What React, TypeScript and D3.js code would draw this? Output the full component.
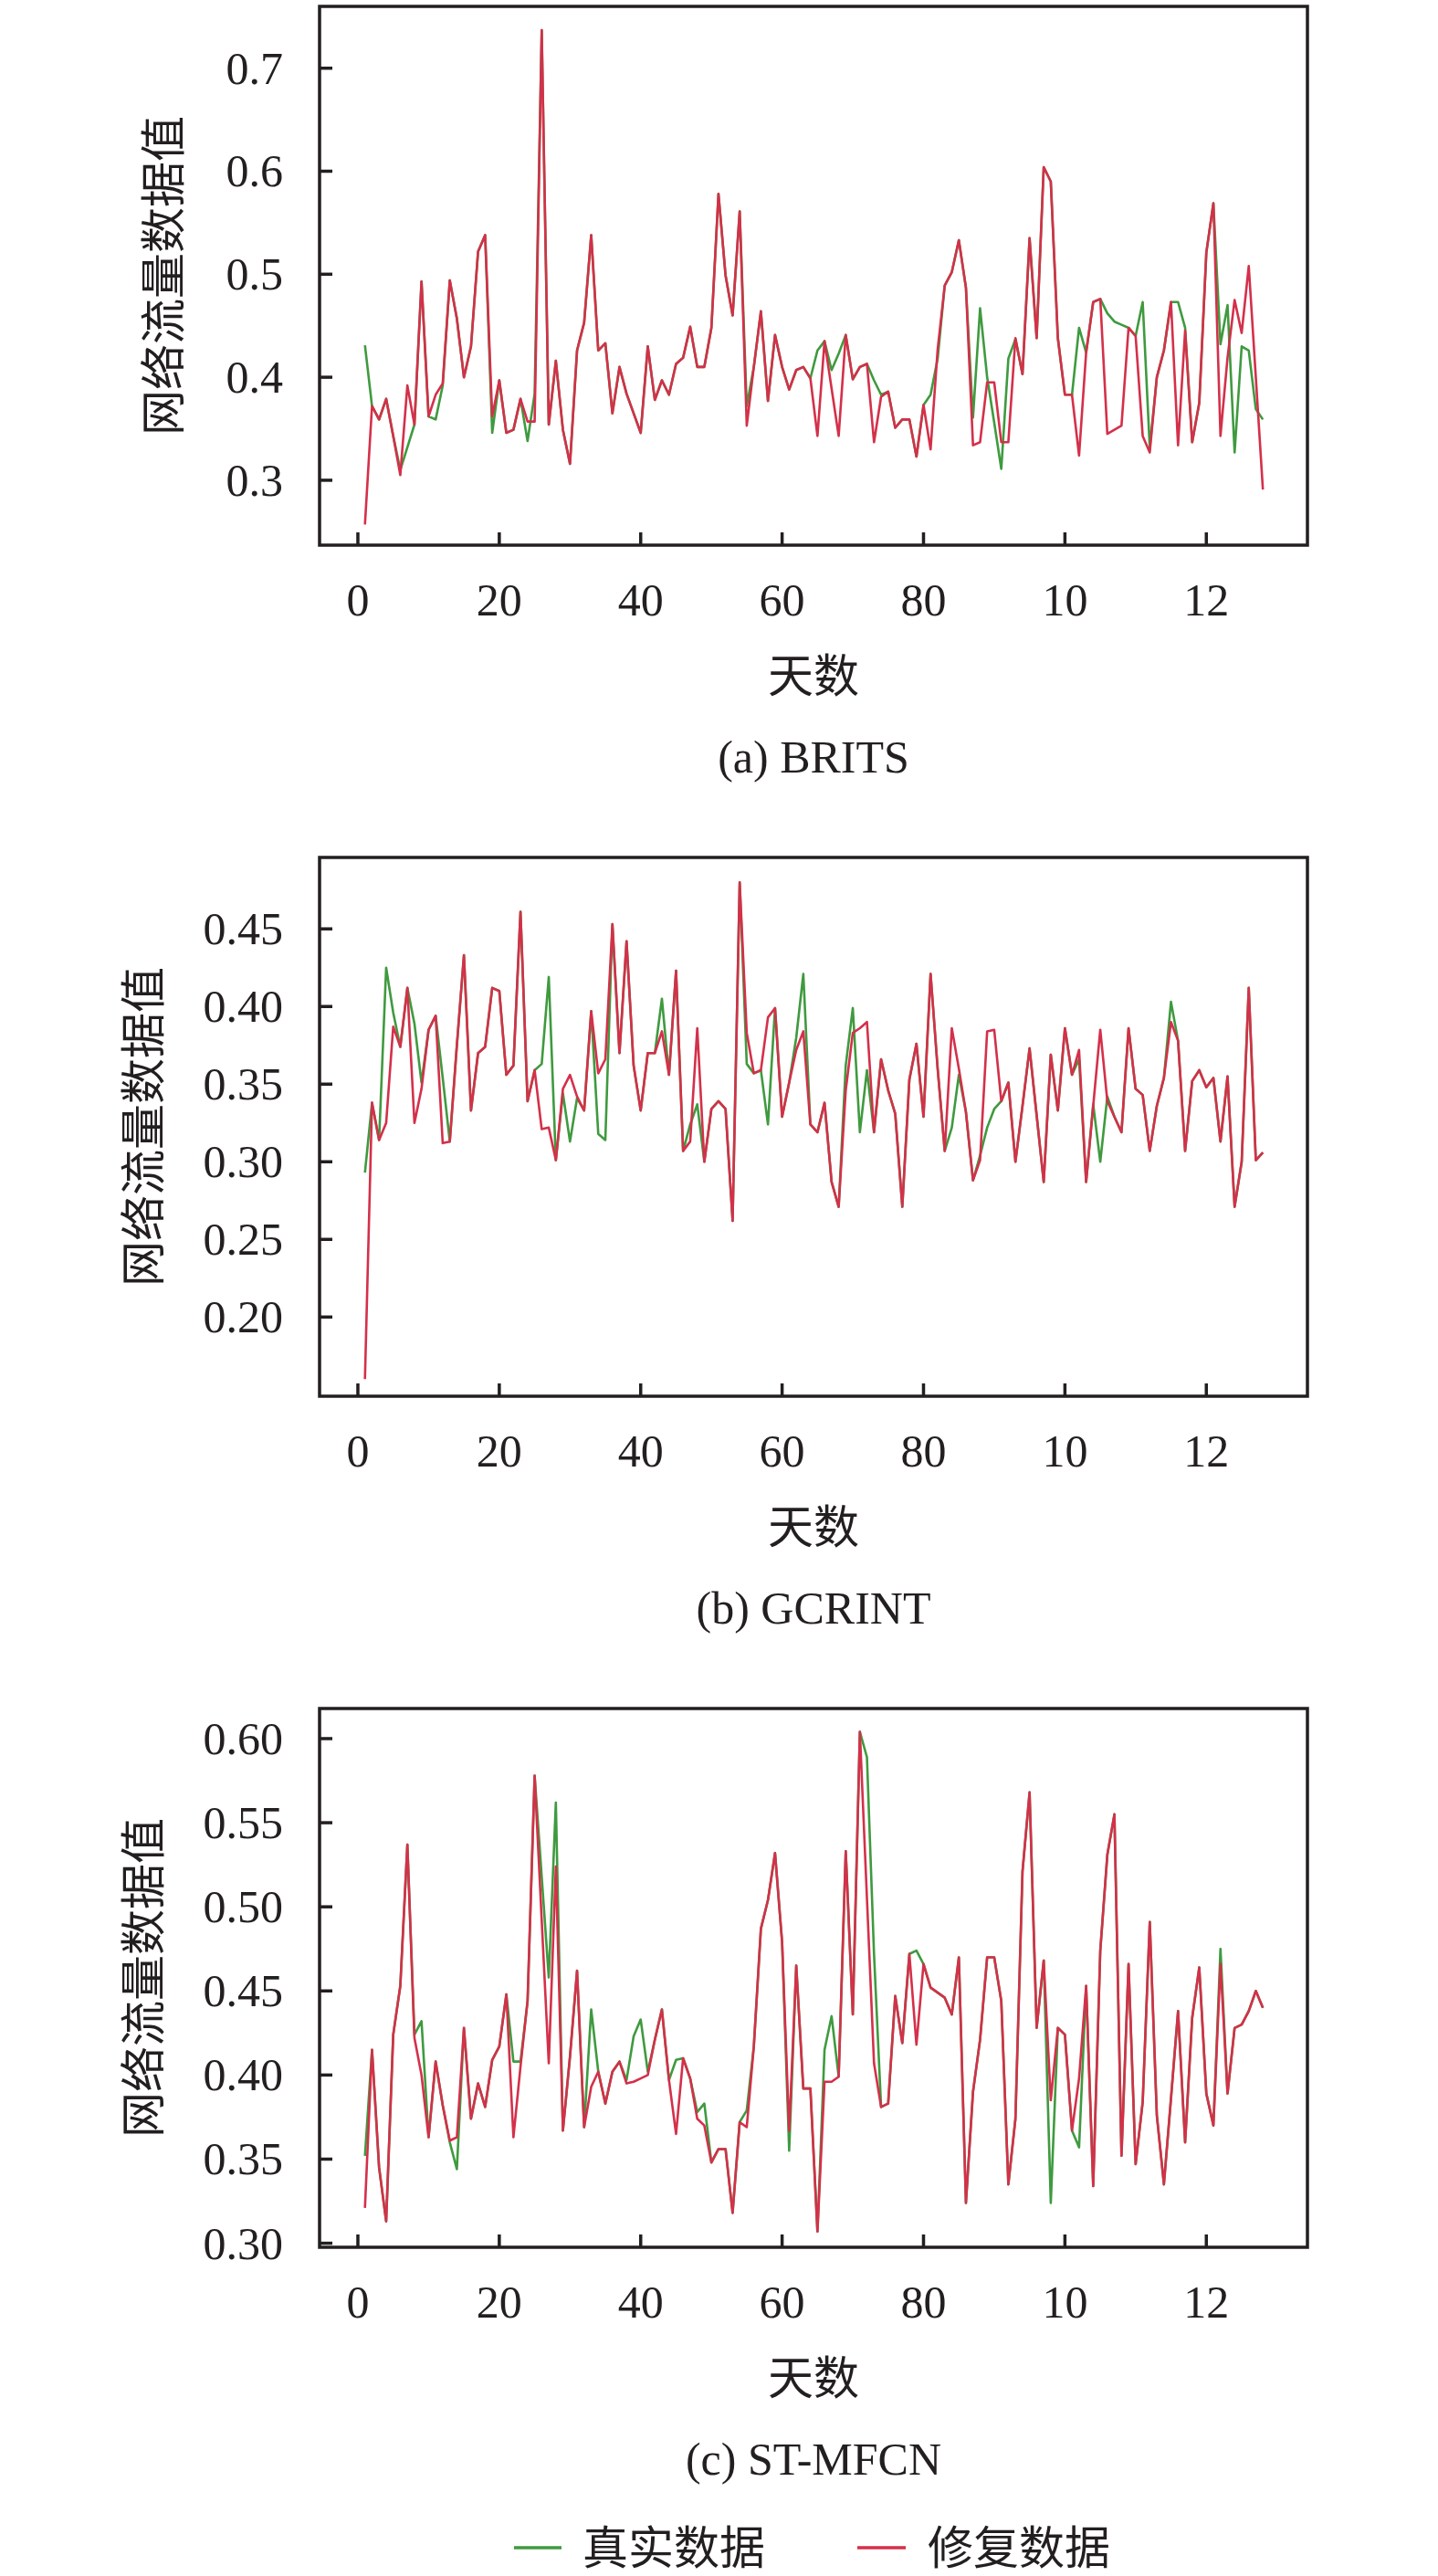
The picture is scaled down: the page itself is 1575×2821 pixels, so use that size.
import React from "react";
import * as d3 from "d3";

const W = 1575;
const H = 2821;

// x axis: days, labels as printed (100/120 are truncated in the source figure)
const days = d3.range(1, 129);
const xTickValues = [0, 20, 40, 60, 80, 100, 120];
const xTickLabels = ["0", "20", "40", "60", "80", "10", "12"];

// (a) BRITS
const britsTrue = [
  0.431, 0.372, 0.359, 0.379, 0.343, 0.310, 0.332, 0.354, 0.493, 0.362,
  0.359, 0.392, 0.494, 0.457, 0.400, 0.430, 0.522, 0.538, 0.346, 0.397,
  0.346, 0.349, 0.379, 0.338, 0.384, 0.737, 0.354, 0.416, 0.349, 0.316,
  0.426, 0.453, 0.538, 0.426, 0.433, 0.365, 0.410, 0.384, 0.365, 0.346,
  0.430, 0.378, 0.397, 0.383, 0.413, 0.419, 0.449, 0.410, 0.410, 0.448,
  0.578, 0.499, 0.460, 0.561, 0.372, 0.410, 0.464, 0.377, 0.441, 0.410,
  0.388, 0.407, 0.410, 0.399, 0.426, 0.435, 0.407, 0.423, 0.441, 0.398,
  0.410, 0.413, 0.397, 0.383, 0.386, 0.351, 0.359, 0.359, 0.323, 0.373,
  0.383, 0.418, 0.489, 0.502, 0.533, 0.487, 0.361, 0.467, 0.400, 0.356,
  0.311, 0.418, 0.437, 0.403, 0.535, 0.438, 0.604, 0.590, 0.438, 0.383,
  0.383, 0.448, 0.424, 0.473, 0.476, 0.462, 0.454, 0.451, 0.448, 0.440,
  0.473, 0.332, 0.400, 0.426, 0.473, 0.473, 0.448, 0.337, 0.375, 0.521,
  0.569, 0.432, 0.470, 0.327, 0.430, 0.426, 0.369, 0.359,
];
const britsRepaired = [
  0.257, 0.372, 0.359, 0.379, 0.343, 0.305, 0.392, 0.354, 0.493, 0.362,
  0.383, 0.394, 0.494, 0.457, 0.400, 0.430, 0.522, 0.538, 0.362, 0.397,
  0.346, 0.349, 0.379, 0.357, 0.357, 0.737, 0.354, 0.416, 0.349, 0.316,
  0.426, 0.453, 0.538, 0.426, 0.433, 0.365, 0.410, 0.384, 0.365, 0.346,
  0.430, 0.378, 0.397, 0.383, 0.413, 0.419, 0.449, 0.410, 0.410, 0.448,
  0.578, 0.499, 0.460, 0.561, 0.353, 0.410, 0.464, 0.377, 0.441, 0.410,
  0.388, 0.407, 0.410, 0.399, 0.343, 0.435, 0.389, 0.343, 0.441, 0.398,
  0.410, 0.413, 0.337, 0.381, 0.386, 0.351, 0.359, 0.359, 0.323, 0.373,
  0.330, 0.427, 0.489, 0.502, 0.533, 0.487, 0.334, 0.337, 0.395, 0.395,
  0.337, 0.337, 0.438, 0.403, 0.535, 0.438, 0.604, 0.590, 0.438, 0.383,
  0.383, 0.324, 0.424, 0.473, 0.476, 0.345, 0.349, 0.353, 0.448, 0.440,
  0.343, 0.327, 0.400, 0.426, 0.473, 0.334, 0.445, 0.337, 0.375, 0.521,
  0.569, 0.343, 0.419, 0.475, 0.443, 0.508, 0.400, 0.291,
];

// (b) GCRINT
const gcrintTrue = [
  0.293, 0.338, 0.314, 0.425, 0.396, 0.374, 0.412, 0.389, 0.351, 0.385,
  0.394, 0.354, 0.313, 0.375, 0.433, 0.333, 0.370, 0.374, 0.412, 0.410,
  0.356, 0.362, 0.461, 0.339, 0.359, 0.363, 0.419, 0.301, 0.344, 0.313,
  0.341, 0.333, 0.397, 0.318, 0.314, 0.453, 0.370, 0.442, 0.362, 0.333,
  0.370, 0.370, 0.405, 0.356, 0.423, 0.307, 0.324, 0.337, 0.300, 0.334,
  0.339, 0.334, 0.262, 0.480, 0.363, 0.357, 0.359, 0.324, 0.399, 0.329,
  0.351, 0.380, 0.421, 0.324, 0.319, 0.338, 0.287, 0.271, 0.362, 0.399,
  0.319, 0.359, 0.319, 0.366, 0.346, 0.331, 0.271, 0.353, 0.376, 0.329,
  0.421, 0.360, 0.307, 0.322, 0.356, 0.332, 0.288, 0.304, 0.322, 0.334,
  0.339, 0.351, 0.300, 0.336, 0.373, 0.330, 0.287, 0.369, 0.333, 0.386,
  0.356, 0.366, 0.287, 0.337, 0.300, 0.342, 0.329, 0.319, 0.386, 0.347,
  0.343, 0.307, 0.336, 0.354, 0.403, 0.378, 0.307, 0.352, 0.359, 0.348,
  0.354, 0.313, 0.355, 0.271, 0.300, 0.412, 0.301, 0.306,
];
const gcrintRepaired = [
  0.160, 0.338, 0.314, 0.325, 0.387, 0.374, 0.412, 0.325, 0.347, 0.385,
  0.394, 0.312, 0.313, 0.375, 0.433, 0.333, 0.370, 0.374, 0.412, 0.410,
  0.356, 0.362, 0.461, 0.339, 0.359, 0.321, 0.322, 0.301, 0.347, 0.356,
  0.342, 0.333, 0.397, 0.357, 0.366, 0.453, 0.370, 0.442, 0.362, 0.333,
  0.370, 0.370, 0.384, 0.356, 0.423, 0.307, 0.313, 0.386, 0.300, 0.334,
  0.339, 0.334, 0.262, 0.480, 0.383, 0.357, 0.359, 0.393, 0.399, 0.329,
  0.351, 0.372, 0.384, 0.324, 0.319, 0.338, 0.287, 0.271, 0.346, 0.383,
  0.386, 0.390, 0.319, 0.366, 0.346, 0.331, 0.271, 0.353, 0.376, 0.329,
  0.421, 0.360, 0.307, 0.386, 0.360, 0.332, 0.288, 0.301, 0.384, 0.385,
  0.339, 0.351, 0.300, 0.336, 0.373, 0.330, 0.287, 0.369, 0.333, 0.386,
  0.356, 0.372, 0.287, 0.336, 0.385, 0.339, 0.329, 0.319, 0.386, 0.347,
  0.343, 0.307, 0.336, 0.354, 0.390, 0.378, 0.307, 0.352, 0.359, 0.348,
  0.354, 0.313, 0.355, 0.271, 0.300, 0.412, 0.301, 0.306,
];

// (c) ST-MFCN
const stmfcnTrue = [
  0.352, 0.415, 0.345, 0.313, 0.424, 0.453, 0.537, 0.424, 0.432, 0.363,
  0.408, 0.382, 0.360, 0.344, 0.428, 0.374, 0.395, 0.381, 0.409, 0.417,
  0.448, 0.408, 0.408, 0.444, 0.578, 0.518, 0.458, 0.562, 0.367, 0.411,
  0.462, 0.369, 0.439, 0.402, 0.383, 0.402, 0.408, 0.397, 0.423, 0.433,
  0.402, 0.421, 0.439, 0.397, 0.409, 0.410, 0.398, 0.378, 0.383, 0.348,
  0.356, 0.356, 0.318, 0.372, 0.379, 0.417, 0.487, 0.504, 0.532, 0.479,
  0.355, 0.465, 0.392, 0.392, 0.307, 0.415, 0.435, 0.399, 0.533, 0.436,
  0.604, 0.589, 0.472, 0.381, 0.383, 0.447, 0.419, 0.472, 0.474, 0.466,
  0.452, 0.449, 0.446, 0.436, 0.470, 0.324, 0.390, 0.421, 0.470, 0.470,
  0.444, 0.335, 0.374, 0.521, 0.568, 0.428, 0.468, 0.324, 0.428, 0.424,
  0.367, 0.357, 0.453, 0.334, 0.474, 0.531, 0.555, 0.352, 0.466, 0.347,
  0.384, 0.491, 0.376, 0.335, 0.386, 0.438, 0.360, 0.434, 0.464, 0.389,
  0.370, 0.475, 0.389, 0.428, 0.430, 0.438, 0.450, 0.440,
];
const stmfcnRepaired = [
  0.321, 0.415, 0.345, 0.313, 0.424, 0.453, 0.537, 0.422, 0.400, 0.363,
  0.408, 0.382, 0.361, 0.363, 0.428, 0.374, 0.395, 0.381, 0.409, 0.417,
  0.448, 0.363, 0.405, 0.444, 0.578, 0.492, 0.407, 0.524, 0.367, 0.411,
  0.462, 0.369, 0.393, 0.402, 0.383, 0.402, 0.408, 0.395, 0.396, 0.398,
  0.400, 0.421, 0.439, 0.397, 0.365, 0.410, 0.398, 0.374, 0.370, 0.348,
  0.356, 0.356, 0.318, 0.372, 0.369, 0.417, 0.487, 0.504, 0.532, 0.479,
  0.367, 0.465, 0.392, 0.392, 0.307, 0.396, 0.396, 0.399, 0.533, 0.436,
  0.604, 0.505, 0.407, 0.381, 0.383, 0.447, 0.419, 0.472, 0.418, 0.466,
  0.452, 0.449, 0.446, 0.436, 0.470, 0.324, 0.390, 0.421, 0.470, 0.470,
  0.444, 0.335, 0.374, 0.521, 0.568, 0.428, 0.468, 0.385, 0.428, 0.424,
  0.367, 0.398, 0.453, 0.334, 0.474, 0.531, 0.555, 0.352, 0.466, 0.347,
  0.384, 0.491, 0.376, 0.335, 0.386, 0.438, 0.360, 0.434, 0.464, 0.389,
  0.370, 0.466, 0.389, 0.428, 0.430, 0.438, 0.450, 0.440,
];

const GREEN = "#3f9a3f";
const RED = "#d4304a";
const INK = "#231f20";
const FONT = "'Liberation Serif', 'Times New Roman', 'Noto Sans CJK SC', serif";
const FS = 50;

const PLOT_LEFT = 350;
const PLOT_RIGHT = 1432;
const PLOT_H = 590;
const TICK = 14;

interface PanelProps {
  top: number;
  truth: number[];
  repaired: number[];
  yDomain: [number, number];
  yTicks: number[];
  yDigits: number;
  yTitleX: number;
  caption: string;
}

const Panel = (p: PanelProps) => {
  const bottom = p.top + PLOT_H;
  const x = d3.scaleLinear().domain([-5.42, 134.3]).range([PLOT_LEFT, PLOT_RIGHT]);
  const y = d3.scaleLinear().domain(p.yDomain).range([bottom, p.top]);
  const line = d3
    .line<number>()
    .x((_, i) => x(days[i]))
    .y((d) => y(d));
  const cx = (PLOT_LEFT + PLOT_RIGHT) / 2;
  const cy = (p.top + bottom) / 2;

  return (
    <g>
      <path d={line(p.truth) || ""} fill="none" stroke={GREEN} strokeWidth={2.6} strokeLinejoin="round" />
      <path d={line(p.repaired) || ""} fill="none" stroke={RED} strokeWidth={2.6} strokeLinejoin="round" />
      <rect
        x={PLOT_LEFT}
        y={p.top}
        width={PLOT_RIGHT - PLOT_LEFT}
        height={PLOT_H}
        fill="none"
        stroke={INK}
        strokeWidth={3.5}
      />
      {xTickValues.map((v, i) => (
        <g key={"x" + v}>
          <line x1={x(v)} x2={x(v)} y1={bottom} y2={bottom - TICK} stroke={INK} strokeWidth={3.5} />
          <text x={x(v)} y={bottom + 77} textAnchor="middle" fontSize={FS} fill={INK}>
            {xTickLabels[i]}
          </text>
        </g>
      ))}
      {p.yTicks.map((v) => (
        <g key={"y" + v}>
          <line x1={PLOT_LEFT} x2={PLOT_LEFT + TICK} y1={y(v)} y2={y(v)} stroke={INK} strokeWidth={3.5} />
          <text x={PLOT_LEFT - 40} y={y(v) + 17} textAnchor="end" fontSize={FS} fill={INK}>
            {v.toFixed(p.yDigits)}
          </text>
        </g>
      ))}
      <text
        transform={`translate(${p.yTitleX},${cy}) rotate(-90)`}
        textAnchor="middle"
        dominantBaseline="central"
        fontSize={FS}
        fill={INK}
      >
        网络流量数据值
      </text>
      <text x={cx} y={bottom + 161} textAnchor="middle" fontSize={FS} fill={INK}>
        天数
      </text>
      <text x={cx} y={bottom + 249} textAnchor="middle" fontSize={FS} fill={INK}>
        {p.caption}
      </text>
    </g>
  );
};

export default function App() {
  const legendY = 2790;
  return (
    <svg
      width={W}
      height={H}
      viewBox={`0 0 ${W} ${H}`}
      style={{ position: "absolute", left: 0, top: 0, display: "block", background: "#fff" }}
      fontFamily={FONT}
    >
      <rect width={W} height={H} fill="#fff" />
      <Panel
        top={7}
        truth={britsTrue}
        repaired={britsRepaired}
        yDomain={[0.237, 0.76]}
        yTicks={[0.3, 0.4, 0.5, 0.6, 0.7]}
        yDigits={1}
        yTitleX={180}
        caption="(a) BRITS"
      />
      <Panel
        top={939}
        truth={gcrintTrue}
        repaired={gcrintRepaired}
        yDomain={[0.149, 0.496]}
        yTicks={[0.2, 0.25, 0.3, 0.35, 0.4, 0.45]}
        yDigits={2}
        yTitleX={158}
        caption="(b) GCRINT"
      />
      <Panel
        top={1871}
        truth={stmfcnTrue}
        repaired={stmfcnRepaired}
        yDomain={[0.2976, 0.6179]}
        yTicks={[0.3, 0.35, 0.4, 0.45, 0.5, 0.55, 0.6]}
        yDigits={2}
        yTitleX={158}
        caption="(c) ST-MFCN"
      />
      <line x1={563} x2={615} y1={legendY} y2={legendY} stroke={GREEN} strokeWidth={3.5} />
      <text x={638} y={legendY + 18} fontSize={FS} fill={INK}>
        真实数据
      </text>
      <line x1={939} x2={992} y1={legendY} y2={legendY} stroke={RED} strokeWidth={3.5} />
      <text x={1016} y={legendY + 18} fontSize={FS} fill={INK}>
        修复数据
      </text>
    </svg>
  );
}
